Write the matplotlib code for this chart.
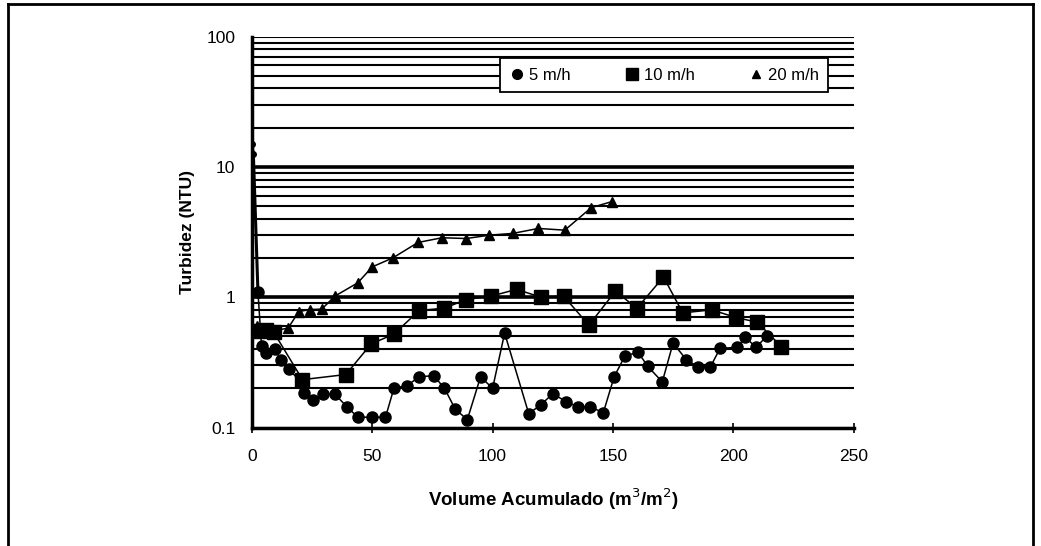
import matplotlib
matplotlib.use("Agg")
import matplotlib.pyplot as plt
from matplotlib.lines import Line2D

plt.rcParams['font.family'] = ['Liberation Sans', 'DejaVu Sans']

# 5 m/h (circles)
x5 = [0, 0.6, 2.5, 4, 6, 9.5, 12, 15.5, 20.5, 21.5, 25.5, 29.5, 34.5, 39.5, 44,
      50, 55.5, 59, 64.5, 69.5, 75.5, 80, 84.5, 89.5, 95, 100, 105, 115, 120,
      125, 130.5, 135.5, 140.5, 146, 150.5, 155, 160.5, 164.5, 170.5, 175,
      180.5, 185.5, 190.5, 194.5, 201.5, 205, 209.5, 214]
y5 = [15, 12.5, 1.1, 0.42, 0.37, 0.40, 0.33, 0.28, 0.22, 0.185, 0.163, 0.18,
      0.18, 0.144, 0.12, 0.12, 0.12, 0.20, 0.21, 0.245, 0.25, 0.20, 0.138,
      0.115, 0.245, 0.20, 0.53, 0.128, 0.149, 0.182, 0.158, 0.144, 0.144,
      0.13, 0.245, 0.355, 0.377, 0.294, 0.224, 0.445, 0.331, 0.292, 0.292,
      0.405, 0.412, 0.492, 0.412, 0.506]

# 10 m/h (squares)
x10 = [3, 6, 9, 21, 39, 49.5, 59, 69.5, 80, 89, 99.5, 110, 120, 129.5, 140,
       151, 160, 171, 179, 191, 201, 210, 220]
y10 = [0.55, 0.56, 0.54, 0.233, 0.255, 0.437, 0.522, 0.79, 0.824, 0.96, 1.02,
       1.15, 1.0, 1.02, 0.61, 1.11, 0.824, 1.43, 0.758, 0.80, 0.70, 0.642, 0.417]

# 20 m/h (triangles)
x20 = [2, 5, 8, 15, 19.5, 24, 29, 34.5, 44, 50, 58.5, 69, 79, 89, 98.5, 108.5,
       119, 130, 141, 149.5]
y20 = [0.60, 0.58, 0.55, 0.578, 0.776, 0.804, 0.81, 1.02, 1.29, 1.71, 2.0,
       2.63, 2.86, 2.82, 2.99, 3.09, 3.37, 3.27, 4.87, 5.41]

legend_labels = ['5 m/h', '10 m/h', '20 m/h']
xticks = [0, 50, 100, 150, 200, 250]
yticks = [0.1, 1, 10, 100]
ytick_labels = ['0.1', '1', '10', '100']

fig = plt.figure(figsize=(10.41, 5.46), dpi=100)
ax = fig.add_axes([0.242, 0.217, 0.578, 0.716])

# horizontal grid lines at every log step
grid_vals = []
for dec in [0.1, 1, 10]:
    for m in range(1, 10):
        grid_vals.append(dec * m)
grid_vals.append(100)
for g in grid_vals:
    lw = 2.6 if g in (1, 10) else 1.5
    ax.axhline(g, color='black', lw=lw, zorder=1)

# initial spike drawn as a heavy line with small marks
ax.plot(x5[:3], y5[:3], color='black', lw=2.2, marker='o', ms=4, zorder=3)
ax.plot(x5[2:], y5[2:], color='black', lw=1.1, marker='o', ms=8, zorder=3)
ax.plot(x10, y10, color='black', lw=1.1, marker='s', ms=10, zorder=3)
ax.plot(x20, y20, color='black', lw=1.1, marker='^', ms=6.5, zorder=3)

ax.set_yscale('log')
ax.set_xlim(0, 250)
ax.set_ylim(0.1, 100)
ax.set_xticks(xticks)
ax.set_xticklabels([str(t) for t in xticks])
ax.set_yticks(yticks)
ax.set_yticklabels(ytick_labels)
ax.yaxis.set_minor_locator(matplotlib.ticker.NullLocator())
ax.tick_params(axis='y', length=0, pad=12, labelsize=12.5)
ax.tick_params(axis='x', direction='inout', length=7, width=1.2, pad=12, labelsize=12.5)

for s in ['top', 'right']:
    ax.spines[s].set_visible(False)
ax.spines['left'].set_linewidth(2.5)
ax.spines['bottom'].set_linewidth(2.5)

ax.set_xlabel('Volume Acumulado (m$^3$/m$^2$)', fontsize=13.5, fontweight='bold', labelpad=16)
ax.set_ylabel('Turbidez (NTU)', fontsize=12.5, fontweight='bold', labelpad=8)

handles = [Line2D([], [], ls='none', marker='o', color='black', ms=7),
           Line2D([], [], ls='none', marker='s', color='black', ms=9),
           Line2D([], [], ls='none', marker='^', color='black', ms=6)]
leg = ax.legend(handles, legend_labels, ncol=3, loc='upper left',
                bbox_to_anchor=(0.412, 0.944), borderaxespad=0, frameon=True,
                fancybox=False, edgecolor='black', fontsize=12,
                handletextpad=0.2, columnspacing=3.2, borderpad=0.55,
                handlelength=1.0)
leg.get_frame().set_linewidth(1.3)
leg.get_frame().set_facecolor('white')
leg.get_frame().set_alpha(1)
leg.set_zorder(5)

# outer frame
fig.add_artist(Line2D([0.008, 0.008], [0.0, 0.993], transform=fig.transFigure, color='black', lw=2))
fig.add_artist(Line2D([0.008, 0.992], [0.993, 0.993], transform=fig.transFigure, color='black', lw=2))
fig.add_artist(Line2D([0.992, 0.992], [0.0, 0.993], transform=fig.transFigure, color='black', lw=2))

fig.savefig('out.png', dpi=100)
